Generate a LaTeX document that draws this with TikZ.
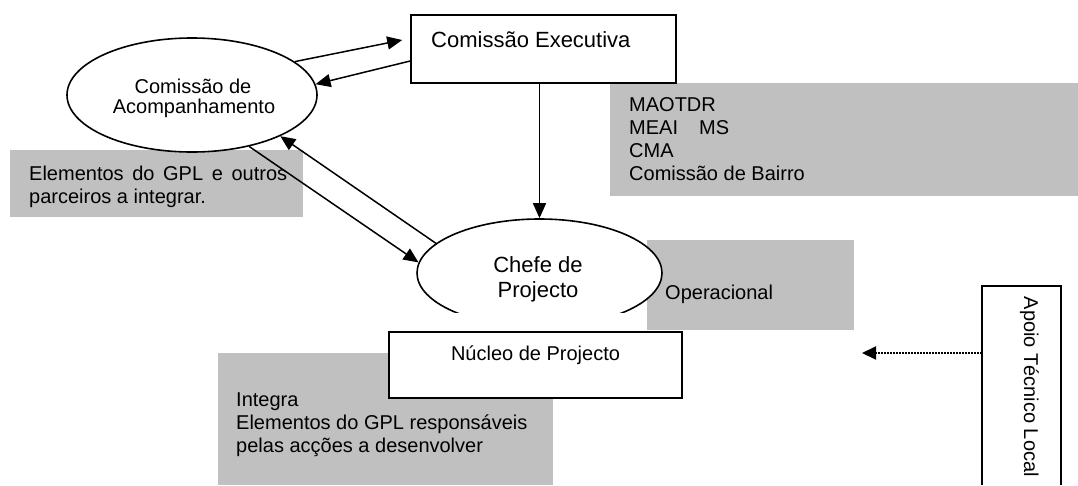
\documentclass[tikz,border=0pt]{standalone}
\usepackage{fontspec}
\setmainfont{Liberation Sans}
\usetikzlibrary{arrows.meta,shapes.geometric}
\definecolor{boxgray}{HTML}{C0C0C0}
\newcommand\fsz[1]{\fontsize{#1}{#1}\selectfont}
\begin{document}
\begin{tikzpicture}[x=1pt,y=1pt,
  gbox/.style={fill=boxgray, draw=none, inner sep=0, anchor=north west},
  txt/.style={inner sep=0, font=\fsz{20}},
  ell/.style={ellipse, draw, line width=1.6pt, fill=white, inner sep=0},
  wbox/.style={rectangle, draw, line width=1.6pt, fill=white, inner sep=0},
  arr/.style={line width=1.5pt, -{Triangle[length=15pt,width=13pt]}},
  dotarr/.style={line width=2pt, dash pattern=on 1.6pt off 1.4pt, -{Triangle[length=14pt,width=13pt]}},
]
\useasboundingbox (0,0) rectangle (1078,-485);

% grey text boxes
\node[gbox, minimum width=468, minimum height=113] (g1) at (610,-83) {};
\node[txt, anchor=base west] (g1a) at (629,-111) {MAOTDR};
\node[txt, anchor=base west] (g1b) at (629,-134) {MEAI\hspace{21pt}MS};
\node[txt, anchor=base west] (g1c) at (629,-157) {CMA};
\node[txt, anchor=base west] (g1d) at (629,-180) {Comissão de Bairro};

\node[gbox, minimum width=293, minimum height=67] (g2) at (10,-150) {};
\node[txt, anchor=base west] (g2a) at (29,-180) {\makebox[258pt][s]{Elementos do GPL e outros}};
\node[txt, anchor=base west] (g2b) at (29,-203) {parceiros a integrar.};

\node[gbox, minimum width=207, minimum height=90] (g3) at (647,-240) {};
\node[txt, anchor=base west] (g3a) at (665,-299) {Operacional};

\node[gbox, minimum width=335, minimum height=132] (g4) at (218,-353) {};
\node[txt, anchor=base west] (g4a) at (236,-406) {Integra};
\node[txt, anchor=base west] (g4b) at (236,-429) {Elementos do GPL responsáveis};
\node[txt, anchor=base west] (g4c) at (236,-452) {pelas acções a desenvolver};

% main shapes
\node[wbox, minimum width=265, minimum height=68] (E) at (543.5,-49) {};
\node[txt, font=\fsz{22}, anchor=base west] (Et) at (431,-47) {Comissão Executiva};

\node[ell, minimum width=250, minimum height=114] (A) at (192,-95) {};
\node[txt, anchor=base] (At1) at (193,-93) {Comissão de};
\node[txt, anchor=base] (At2) at (194,-113) {Acompanhamento};

\node[ell, minimum width=245, minimum height=108] (B) at (539.5,-273) {};
\node[txt, font=\fsz{22}, anchor=base] (Bt1) at (538,-272) {Chefe de};
\node[txt, font=\fsz{22}, anchor=base] (Bt2) at (538,-297) {Projecto};

\fill[white] (453,-313) rectangle (625,-331);

\node[wbox, minimum width=293, minimum height=66] (N) at (535.5,-365) {};
\node[txt, anchor=base] (Nt) at (535.5,-360) {Núcleo de Projecto};

\node[inner sep=0, minimum width=79, minimum height=199] (P) at (1021.5,-385.5) {};
\draw[line width=1.6pt] (P.south west) -- (P.north west) -- (P.north east) -- (P.south east);
\node[txt, rotate=-90, anchor=base west] (Pt) at (1024,-296.5) {Apoio Técnico Local};

% connectors
\draw[arr] (A.18) -- ([xshift=-8pt,yshift=9pt]E.west);
\draw[arr] ([yshift=-12pt]E.west) -- (A.5);
\draw[arr] (E.south -| B.north) -- (B.north);
\draw[arr] (A.-42) -- (B.175);
\draw[arr] (B.164) -- (A.-25);
\coordinate (dotend) at (862,-353);
\draw[dotarr] ([yshift=32.5pt]P.west) -- (dotend);
\end{tikzpicture}
\end{document}
